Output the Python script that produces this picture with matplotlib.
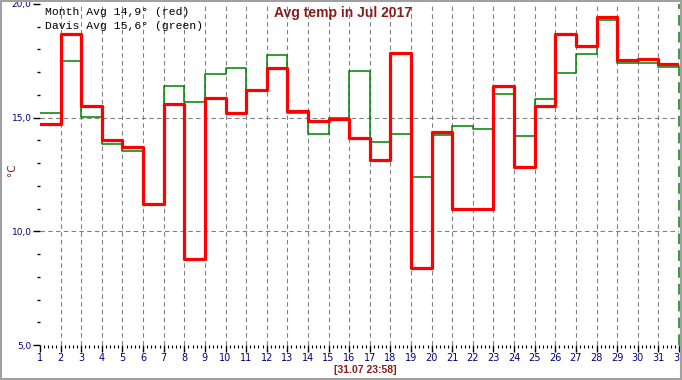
import numpy as np
import matplotlib
matplotlib.use('Agg')
import matplotlib.pyplot as plt
from matplotlib.ticker import MultipleLocator, FixedLocator
from matplotlib.patches import Rectangle

# dias del mes y temperaturas medias (Jul 2017)
dias = list(range(1, 32))
media_mes = [14.7, 18.7, 15.5, 14.0, 13.7, 11.2, 15.6, 8.8, 15.85, 15.2,
             16.2, 17.2, 15.3, 14.85, 14.95, 14.1, 13.15, 17.85, 8.4, 14.35,
             11.0, 11.0, 16.4, 12.85, 15.5, 18.7, 18.15, 19.45, 17.55, 17.6, 17.35]
davis = [15.2, 17.5, 15.05, 13.85, 13.55, 11.2, 16.4, 15.7, 16.9, 17.2,
         16.2, 17.75, 15.2, 14.3, 15.0, 17.05, 13.95, 14.3, 12.4, 14.25,
         14.65, 14.5, 16.05, 14.2, 15.8, 16.95, 17.8, 19.3, 17.4, 17.4, 17.25]

y_ticks = [5, 10, 15, 20]
y_labels = ['5,0', '10,0', '15,0', '20,0']
x_ticks = list(range(1, 33))

titulo = 'Avg temp in Jul 2017'
leyenda1 = 'Month Avg 14,9\u00b0 (red)'
leyenda2 = 'Davis Avg 15,6\u00b0 (green)'
fecha = '[31.07 23:58]'

azul = '#000080'
granate = '#8b1a1a'

fig = plt.figure(figsize=(6.82, 3.80), dpi=100)
fig.patch.set_facecolor('white')
ax = fig.add_axes([40/682, 35/380, 639/682, 341/380])
ax.set_facecolor('white')

# escalones: cada valor ocupa del dia d al d+1
xs = dias + [32]
ax.step(xs, davis + [davis[-1]], where='post', color='#008000', linewidth=1.1, zorder=3)
ax.step(xs, media_mes + [media_mes[-1]], where='post', color='#ff0000', linewidth=2.3, zorder=4)

ax.set_xlim(1, 32)
ax.set_ylim(5, 20)

# rejilla punteada
for d in range(2, 32):
    ax.axvline(d, color='#808080', linestyle=(0, (4, 3)), linewidth=0.8, zorder=1)
for v in [10, 15]:
    ax.axhline(v, color='#808080', linestyle=(0, (4, 3)), linewidth=0.8, zorder=1)
ax.axvline(32, color='#008000', linestyle=(0, (7, 4)), linewidth=1.1, zorder=2, clip_on=False)

for s in ['top', 'right', 'left', 'bottom']:
    ax.spines[s].set_visible(False)

ax.set_yticks(y_ticks)
ax.set_yticklabels(y_labels)
ax.yaxis.set_minor_locator(FixedLocator([v for v in range(6, 20) if v % 5 != 0]))
ax.set_xticks(x_ticks)
ax.set_xticklabels([str(d) for d in x_ticks])
ax.xaxis.set_minor_locator(MultipleLocator(0.2))

ax.tick_params(axis='y', which='major', length=5, width=1, color='black', labelsize=6.5, labelcolor=azul, pad=1)
ax.tick_params(axis='y', which='minor', length=2.5, width=1, color='black', pad=1)
ax.tick_params(axis='x', which='major', length=5, width=1, color='black', labelsize=7, labelcolor=azul, pad=1)
ax.tick_params(axis='x', which='minor', length=2.5, width=0.8, color='black')

# textos
fig.text(343/682, 1 - 13/380, titulo, ha='center', va='center', fontsize=10,
         fontweight='bold', color=granate, family='Liberation Sans')
fig.text(45/682, 1 - 12/380, leyenda1, ha='left', va='center', fontsize=8.2,
         family='Liberation Mono', color='black')
fig.text(45/682, 1 - 26/380, leyenda2, ha='left', va='center', fontsize=8.2,
         family='Liberation Mono', color='black')
fig.text(12/682, 1 - 170/380, '\u00b0C', ha='center', va='center', fontsize=7.5,
         color=granate, rotation=90)
fig.text(365/682, 1 - 370/380, fecha, ha='center', va='center', fontsize=7.5,
         fontweight='bold', color=granate, family='Liberation Sans')

# marco gris
fig.patches.append(Rectangle((0.001, 0.002), 0.997, 0.995, transform=fig.transFigure,
                             fill=False, edgecolor='#a0a0a0', linewidth=1.5))

plt.savefig('out.png', dpi=100)
